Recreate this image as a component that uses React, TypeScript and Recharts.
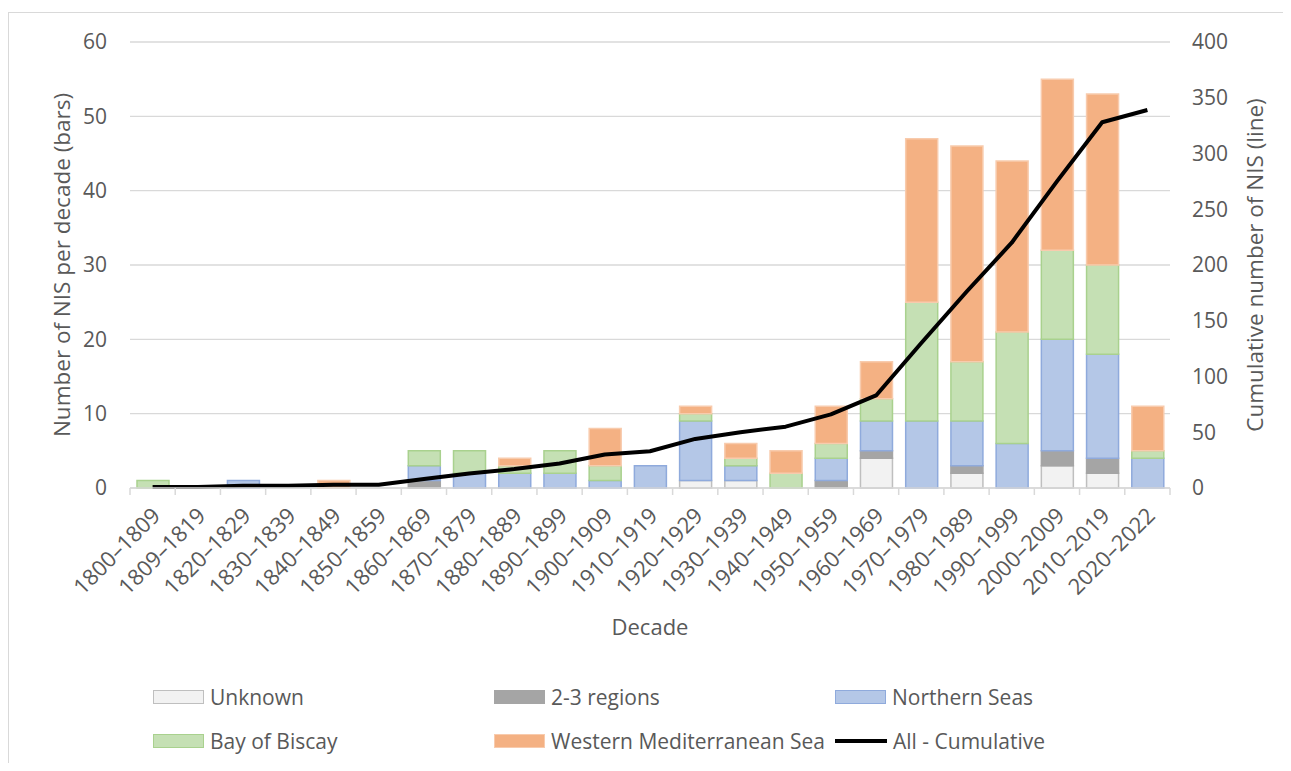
import React from "react";
import { ComposedChart, Bar, Line, XAxis, YAxis, CartesianGrid } from "recharts";

const decades = [
  "1800–1809", "1809–1819", "1820–1829", "1830–1839", "1840–1849", "1850–1859",
  "1860–1869", "1870–1879", "1880–1889", "1890–1899", "1900–1909", "1910–1919",
  "1920–1929", "1930–1939", "1940–1949", "1950–1959", "1960–1969", "1970–1979",
  "1980–1989", "1990–1999", "2000–2009", "2010–2019", "2020–2022",
];
const unknown = [0, 0, 0, 0, 0, 0, 0, 0, 0, 0, 0, 0, 1, 1, 0, 0, 4, 0, 2, 0, 3, 2, 0];
const regions23 = [0, 0, 0, 0, 0, 0, 1, 0, 0, 0, 0, 0, 0, 0, 0, 1, 1, 0, 1, 0, 2, 2, 0];
const northernSeas = [0, 0, 1, 0, 0, 0, 2, 2, 2, 2, 1, 3, 8, 2, 0, 3, 4, 9, 6, 6, 15, 14, 4];
const bayOfBiscay = [1, 0, 0, 0, 0, 0, 2, 3, 1, 3, 2, 0, 1, 1, 2, 2, 3, 16, 8, 15, 12, 12, 1];
const westernMed = [0, 0, 0, 0, 1, 0, 0, 0, 1, 0, 5, 0, 1, 2, 3, 5, 5, 22, 29, 23, 23, 23, 6];
const cumulative = [1, 1, 2, 2, 3, 3, 8, 13, 17, 22, 30, 33, 44, 50, 55, 66, 83, 130, 176, 220, 275, 328, 339];

const leftTicks = [0, 10, 20, 30, 40, 50, 60];
const rightTicks = [0, 50, 100, 150, 200, 250, 300, 350, 400];

const barSeries = [
  { key: "unknown", name: "Unknown", fill: "#F2F2F2", stroke: "#BFBFBF" },
  { key: "regions23", name: "2-3 regions", fill: "#A5A5A5", stroke: "#A5A5A5" },
  { key: "northernSeas", name: "Northern Seas", fill: "#B4C7E7", stroke: "#8FAADC" },
  { key: "bayOfBiscay", name: "Bay of Biscay", fill: "#C5E0B4", stroke: "#A9D18E" },
  { key: "westernMed", name: "Western Mediterranean Sea", fill: "#F4B183", stroke: "#F8CBAD" },
];
const lineSeries = { key: "cumulative", name: "All - Cumulative", stroke: "#000000" };

const data = decades.map((d, i) => ({
  decade: d,
  unknown: unknown[i],
  regions23: regions23[i],
  northernSeas: northernSeas[i],
  bayOfBiscay: bayOfBiscay[i],
  westernMed: westernMed[i],
  cumulative: cumulative[i],
}));

const FONT = "'Open Sans', sans-serif";
const TEXT = "#595959";
const GRID = "#D9D9D9";
const CHART_W = 1283;
const CHART_H = 755;
const LEFT_W = 122;
const RIGHT_W = 121;
const PLOT_W = CHART_W - LEFT_W - RIGHT_W;
const BAND = PLOT_W / decades.length;

const XTick = (props: any) => {
  const { x, y, payload, index } = props;
  const half = BAND / 2;
  const ax = x + 9;
  const ay = y + 29;
  return (
    <g>
      <line x1={x - half} y1={y} x2={x - half} y2={y + 7} stroke={GRID} strokeWidth={1.5} />
      {index === decades.length - 1 && (
        <line x1={x + half} y1={y} x2={x + half} y2={y + 7} stroke={GRID} strokeWidth={1.5} />
      )}
      <text
        x={ax}
        y={ay}
        textAnchor="end"
        fill={TEXT}
        fontSize={22}
        fontFamily={FONT}
        transform={`rotate(-45 ${ax} ${ay})`}
      >
        {payload.value}
      </text>
    </g>
  );
};

const legendItems = [
  ...barSeries.map((s) => ({ ...s, type: "bar" })),
  { key: lineSeries.key, name: lineSeries.name, fill: "none", stroke: lineSeries.stroke, type: "line" },
];

const Legend = () => (
  <div style={{ position: "absolute", left: 0, top: 0, width: CHART_W, height: CHART_H, pointerEvents: "none" }}>
    {legendItems.map((it, i) => {
      const col = i % 3;
      const row = Math.floor(i / 3);
      const left = 145 + col * 341;
      const cy = 689 + row * 44;
      return (
        <div key={it.key} style={{ position: "absolute", left, top: cy - 15, height: 30, display: "flex", alignItems: "center" }}>
          {it.type === "bar" ? (
            <div style={{ width: 49, height: 12, background: it.fill, border: `1.5px solid ${it.stroke}` }} />
          ) : (
            <div style={{ width: 52, height: 4, background: it.stroke }} />
          )}
          <span style={{ marginLeft: 6, fontFamily: FONT, fontSize: 21, color: TEXT, whiteSpace: "nowrap" }}>{it.name}</span>
        </div>
      );
    })}
  </div>
);

export default function App() {
  return (
    <div style={{ position: "relative", width: CHART_W, height: CHART_H }}>
      <div
        style={{
          position: "absolute",
          left: 0,
          top: 4,
          width: CHART_W,
          height: CHART_H,
          borderLeft: `1.5px solid ${GRID}`,
          borderTop: `1.5px solid ${GRID}`,
        }}
      />
      <ComposedChart
        width={CHART_W}
        height={CHART_H}
        data={data}
        margin={{ top: 34, right: 0, left: 0, bottom: 155 }}
        barSize={32}
        style={{ fontFamily: FONT }}
      >
        <CartesianGrid yAxisId="left" vertical={false} stroke={GRID} strokeWidth={1.3} />
        <XAxis
          dataKey="decade"
          interval={0}
          height={120}
          tickSize={0}
          tickMargin={0}
          tickLine={false}
          axisLine={{ stroke: GRID, strokeWidth: 1.5 }}
          tick={<XTick />}
          label={{
            content: (p: any) => {
              const vb = p.viewBox;
              return (
                <text x={vb.x + vb.width / 2} y={vb.y + 147} textAnchor="middle" fill={TEXT} fontSize={22} fontFamily={FONT}>
                  Decade
                </text>
              );
            },
          }}
        />
        <YAxis
          yAxisId="left"
          orientation="left"
          width={LEFT_W}
          domain={[0, 60]}
          ticks={leftTicks}
          interval={0}
          axisLine={false}
          tickLine={false}
          tickSize={0}
          tickMargin={23}
          tick={{ fill: TEXT, fontSize: 21, fontFamily: FONT }}
          label={{
            value: "Number of NIS per decade (bars)",
            angle: -90,
            position: "insideLeft",
            offset: 54,
            style: { textAnchor: "middle", fill: TEXT, fontSize: 22.5, fontFamily: FONT },
          }}
        />
        <YAxis
          yAxisId="right"
          orientation="right"
          width={RIGHT_W}
          domain={[0, 400]}
          ticks={rightTicks}
          interval={0}
          axisLine={false}
          tickLine={false}
          tickSize={0}
          tickMargin={22}
          tick={{ fill: TEXT, fontSize: 21, fontFamily: FONT, textAnchor: "start" }}
          label={{
            value: "Cumulative number of NIS (line)",
            angle: -90,
            position: "insideRight",
            offset: 36,
            style: { textAnchor: "middle", fill: TEXT, fontSize: 22.5, fontFamily: FONT },
          }}
        />
        {barSeries.map((s) => (
          <Bar
            key={s.key}
            yAxisId="left"
            dataKey={s.key}
            name={s.name}
            stackId="a"
            fill={s.fill}
            stroke={s.stroke}
            strokeWidth={1.5}
            isAnimationActive={false}
          />
        ))}
        <Line
          yAxisId="right"
          type="linear"
          dataKey={lineSeries.key}
          name={lineSeries.name}
          stroke={lineSeries.stroke}
          strokeWidth={4}
          dot={false}
          activeDot={false}
          strokeLinejoin="round"
          isAnimationActive={false}
        />
      </ComposedChart>
      <Legend />
    </div>
  );
}
